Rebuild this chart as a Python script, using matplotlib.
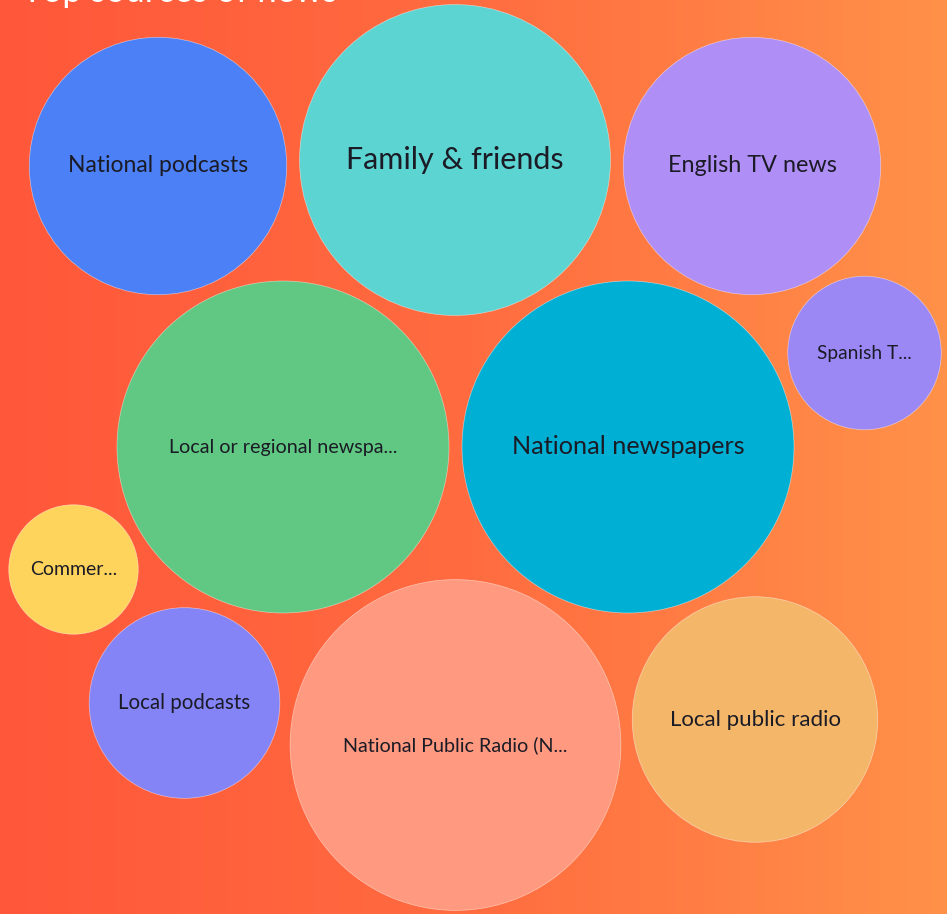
import numpy as np
import matplotlib
matplotlib.use("Agg")
import matplotlib.pyplot as plt
from matplotlib.patches import Circle
from matplotlib.colors import LinearSegmentedColormap

# bubble data (values drive the area of each bubble)
labels = ["National podcasts", "Family & friends", "English TV news", "Spanish T...",
          "Local or regional newspa...", "National newspapers", "Commer...",
          "Local podcasts", "National Public Radio (N...", "Local public radio"]
values = [16.6, 24.2, 16.6, 5.9, 27.6, 27.6, 4.2, 9.1, 27.4, 15.1]
colors = ["#4C80F6", "#5CD4D2", "#AF8EF5", "#9B88F5", "#60C882",
          "#00B0D4", "#FFD45C", "#8484F7", "#FF9A80", "#F4B76A"]
font_sizes = [16.5, 22, 16.8, 13.8, 14.2, 18.2, 14, 14.8, 14.2, 16]

# layout of the packed bubbles (pixel space, y down)
cx = [158, 455, 752, 864.5, 283, 628, 73.5, 184.5, 455.5, 755]
cy = [166, 160, 166, 353, 447, 447, 569.5, 703, 745, 719.5]

W, H = 947, 914
fig = plt.figure(figsize=(W / 100, H / 100), dpi=100)
ax = fig.add_axes([0, 0, 1, 1])
ax.set_xlim(0, W)
ax.set_ylim(H, 0)
ax.axis("off")

# background gradient
bg = LinearSegmentedColormap.from_list("bg", ["#FF573A", "#FF6C40", "#FF9149"])
grad = np.linspace(0, 1, 256).reshape(1, -1)
ax.imshow(grad, cmap=bg, extent=[0, W, H, 0], aspect="auto", zorder=0)

# radius scale: sqrt of value, largest bubble = 166 px
rmax = 166
scale = rmax / np.sqrt(max(values))
for lab, v, c, fs, x, y in zip(labels, values, colors, font_sizes, cx, cy):
    r = np.sqrt(v) * scale
    ax.add_patch(Circle((x, y), r, facecolor=c, edgecolor=(1, 1, 1, 0.5), lw=0.5, zorder=2))
    ax.text(x, y, lab, ha="center", va="center", fontsize=fs, color="#1b1b26",
            family=["Lato", "DejaVu Sans"], zorder=3)

# title, mostly cut off by the top edge
ax.text(22, 1.5, "Top sources of news", ha="left", va="baseline", fontsize=25,
        color="white", family=["Lato", "DejaVu Sans"], zorder=3)

fig.savefig("out.png", dpi=100)
